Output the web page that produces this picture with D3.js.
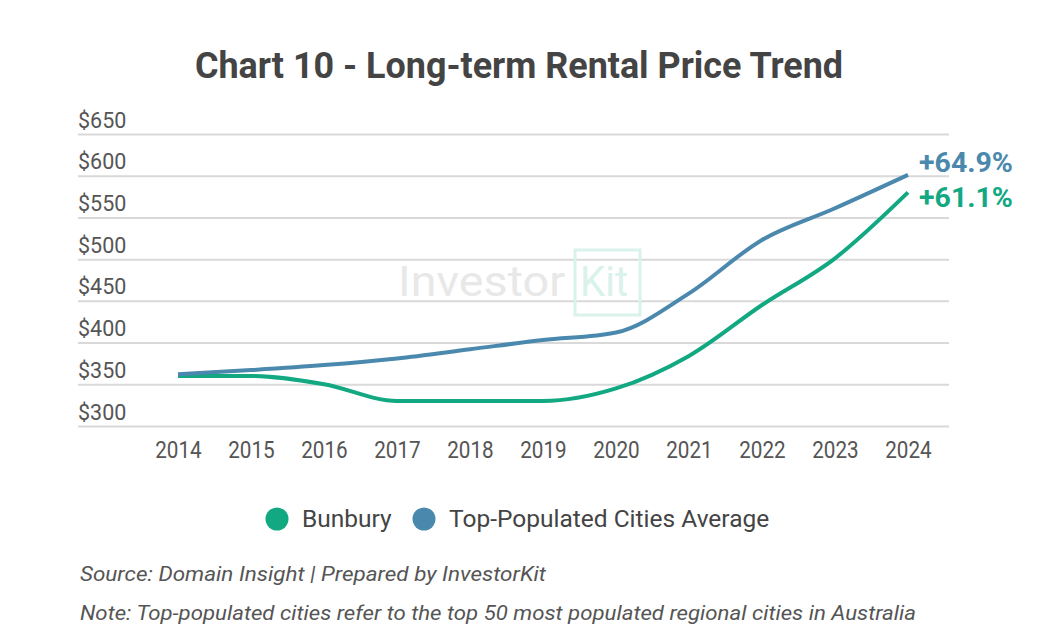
<!DOCTYPE html>
<html><head><meta charset="utf-8">
<script src="https://cdn.jsdelivr.net/npm/d3@7"></script>
<style>body{margin:0;background:#fff;}svg{display:block;}</style>
</head><body>
<svg id="c" width="1040" height="640"></svg>
<script>
const years = [2014,2015,2016,2017,2018,2019,2020,2021,2022,2023,2024];
const bunbury = [360,360,350,330,330,330,345,384,445,501,580];
const topCities = [362,367,373,381,392,403,412,459,523,561,601];
const yTicks = [300,350,400,450,500,550,600,650];
const seriesNames = ["Bunbury","Top-Populated Cities Average"];
const endLabels = ["+61.1%","+64.9%"];
const colors = ["#12a882","#4a89ad"];

const svg = d3.select("#c");
const font = "Roboto, 'Noto Sans', sans-serif";
const x = d3.scalePoint().domain(years).range([178,908]);
const y = d3.scaleLinear().domain([300,650]).range([426,134]);

function condense(sel, f){
  sel.each(function(){ const w=this.getComputedTextLength(); d3.select(this).attr("textLength",w*f).attr("lengthAdjust","spacingAndGlyphs"); });
}

const title = svg.append("text").attr("x",519).attr("y",78).attr("text-anchor","middle")
  .attr("font-family",font).attr("font-weight","bold").attr("font-size",37).attr("fill","#444")
  .text("Chart 10 - Long-term Rental Price Trend");
title.attr("textLength",648).attr("lengthAdjust","spacingAndGlyphs");

// gridlines + y labels
const yAxis = d3.axisLeft(y).tickValues(yTicks).tickSize(-(949-78)).tickFormat(d=>"$"+d);
const gy = svg.append("g").attr("transform","translate(78,0)").call(yAxis);
gy.select(".domain").remove();
gy.selectAll(".tick line").attr("stroke","#d9d9d9").attr("stroke-width",2);
gy.selectAll(".tick text").attr("x",0).attr("dy",-7).attr("dominant-baseline","auto").attr("text-anchor","start")
  .attr("font-family",font).attr("font-size",21.5).attr("fill","#555");

// watermark
const wm = svg.append("g");
wm.append("text").attr("x",398).attr("y",296).attr("font-family",font).attr("font-size",42)
  .attr("fill","#e8e8e8").attr("textLength",167).attr("lengthAdjust","spacingAndGlyphs").text("Investor");
wm.append("rect").attr("x",575).attr("y",250).attr("width",65).attr("height",65)
  .attr("fill","none").attr("stroke","#d9f2eb").attr("stroke-width",3);
wm.append("text").attr("x",580).attr("y",296).attr("font-family",font).attr("font-size",42)
  .attr("fill","#d9f2eb").attr("textLength",48).attr("lengthAdjust","spacingAndGlyphs").text("Kit");

// x labels
const xAxis = d3.axisBottom(x).tickSize(0).tickPadding(0);
const gx = svg.append("g").attr("transform","translate(0,458)").call(xAxis);
gx.select(".domain").remove();
gx.selectAll(".tick text").attr("dy",0).attr("font-family",font).attr("font-size",23.5).attr("fill","#555");
condense(gx.selectAll(".tick text"),0.88);

const line = d3.line().x((d,i)=>x(years[i])).y(d=>y(d)).curve(d3.curveMonotoneX);
[bunbury, topCities].forEach((s,k)=>{
  svg.append("path").datum(s).attr("d",line).attr("fill","none")
    .attr("stroke",colors[k]).attr("stroke-width",4).attr("stroke-linecap","butt");
});

// end labels
svg.append("text").attr("x",919).attr("y",172).attr("font-family",font).attr("font-weight","bold")
  .attr("font-size",28.5).attr("fill",colors[1]).text(endLabels[1]);
svg.append("text").attr("x",919).attr("y",207).attr("font-family",font).attr("font-weight","bold")
  .attr("font-size",28.5).attr("fill",colors[0]).text(endLabels[0]);

// legend
const legX = [277,424];
seriesNames.forEach((n,k)=>{
  svg.append("circle").attr("cx",legX[k]).attr("cy",519).attr("r",11.5).attr("fill",colors[k]);
  svg.append("text").attr("x",legX[k]+25).attr("y",527).attr("font-family",font).attr("font-size",24.5)
    .attr("fill","#444").text(n);
});

// footer
svg.append("text").attr("x",80).attr("y",581).attr("font-family",font).attr("font-style","italic")
  .attr("font-size",21).attr("fill","#555").attr("textLength",466).attr("lengthAdjust","spacingAndGlyphs")
  .text("Source: Domain Insight | Prepared by InvestorKit");
svg.append("text").attr("x",80).attr("y",620).attr("font-family",font).attr("font-style","italic")
  .attr("font-size",21).attr("fill","#555").attr("textLength",836).attr("lengthAdjust","spacingAndGlyphs")
  .text("Note: Top-populated cities refer to the top 50 most populated regional cities in Australia");
</script>
</body></html>
